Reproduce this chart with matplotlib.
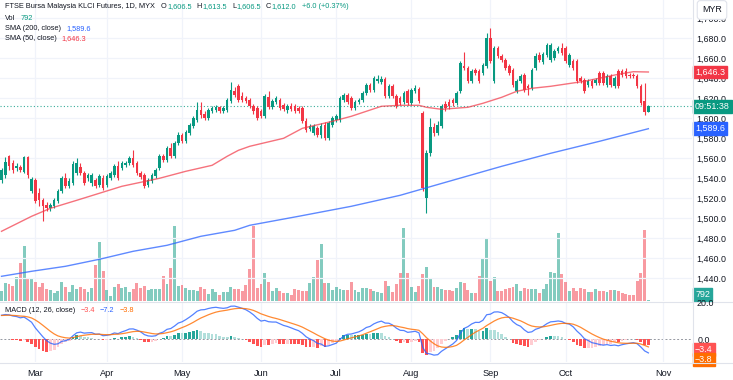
import matplotlib
matplotlib.use("Agg")
import matplotlib.pyplot as plt
from matplotlib.lines import Line2D
import numpy as np

W, H = 733, 380
FONT = ["Liberation Sans", "DejaVu Sans"]
plt.rcParams['font.family'] = FONT

# ---------------- data ----------------
opens = [1538,1543,1562,1555,1550,1551,1546,1561,1527,1538,
         1525,1518,1513,1510,1512,1517,1527,1540,1532,1535,
         1545,1551,1545,1540,1535,1538,1533,1540,1533,1540,
         1543,1552,1550,1553,1555,1560,1555,1545,1543,1533,
         1537,1542,1550,1562,1558,1570,1562,1575,1583,1577,
         1585,1592,1598,1608,1604,1600,1607,1608,1611,1607,
         1608,1617,1627,1632,1622,1620,1618,1612,1610,1607,
         1602,1621,1611,1616,1618,1613,1608,1612,1612,1610,
         1610,1597,1589,1585,1590,1583,1593,1580,1593,1598,
         1598,1618,1623,1620,1610,1616,1618,1625,1633,1628,
         1637,1636,1639,1622,1632,1622,1620,1616,1627,1615,
         1627,1629,1605,1520,1565,1591,1585,1592,1614,1616,
         1618,1615,1627,1652,1650,1637,1648,1647,1645,1652,
         1680,1637,1670,1662,1658,1652,1648,1627,1637,1643,
         1632,1630,1650,1663,1656,1663,1658,1660,1667,1670,
         1670,1653,1657,1657,1640,1638,1633,1637,1635,1645,
         1645,1633,1642,1632,1647,1647,1647,1643,1643,1642,
         1632,1617,1606.5]
highs = [1550,1561,1563,1558,1555,1553,1562,1562,1541,1540,
         1530,1520,1516,1515,1520,1529,1542,1545,1540,1557,
         1560,1555,1547,1545,1545,1540,1544,1543,1544,1547,
         1554,1557,1557,1557,1562,1568,1557,1547,1545,1540,
         1545,1550,1564,1564,1572,1575,1577,1586,1585,1588,
         1595,1602,1616,1616,1607,1610,1612,1613,1612,1612,
         1620,1636,1631,1634,1626,1622,1620,1614,1612,1609,
         1624,1627,1619,1622,1620,1615,1614,1615,1614,1612,
         1612,1600,1594,1594,1592,1595,1596,1597,1602,1604,
         1622,1625,1625,1622,1618,1620,1627,1635,1635,1642,
         1643,1642,1641,1634,1634,1624,1622,1627,1629,1630,
         1633,1631,1607,1568,1600,1595,1597,1614,1617,1619,
         1620,1627,1657,1666,1652,1649,1650,1649,1655,1685,
         1690,1672,1672,1664,1660,1654,1650,1639,1644,1645,
         1634,1650,1665,1666,1666,1675,1675,1669,1672,1675,
         1672,1665,1659,1659,1642,1640,1639,1639,1640,1647,
         1647,1644,1644,1642,1649,1649,1650,1645,1645,1644,
         1634,1635,1613.5]
lows = [1535,1540,1548,1545,1547,1546,1545,1540,1525,1515,
        1512,1497,1507,1507,1510,1515,1525,1530,1530,1533,
        1543,1543,1533,1537,1532,1530,1531,1528,1531,1538,
        1541,1538,1548,1551,1553,1551,1543,1539,1530,1531,
        1535,1540,1548,1556,1556,1560,1560,1573,1575,1575,
        1583,1590,1596,1600,1598,1598,1605,1606,1605,1605,
        1606,1615,1621,1616,1616,1615,1610,1604,1598,1600,
        1600,1609,1609,1614,1608,1607,1605,1607,1605,1605,
        1595,1586,1587,1583,1581,1580,1578,1578,1591,1596,
        1596,1616,1614,1608,1608,1614,1616,1623,1626,1626,
        1635,1634,1620,1620,1620,1610,1613,1614,1613,1613,
        1625,1615,1527,1505,1562,1582,1583,1590,1607,1609,
        1612,1613,1625,1648,1635,1635,1643,1635,1643,1650,
        1655,1635,1660,1656,1648,1643,1631,1625,1635,1626,
        1623,1628,1648,1656,1654,1661,1656,1658,1665,1663,
        1655,1651,1648,1635,1635,1625,1631,1630,1633,1633,
        1633,1631,1631,1630,1630,1641,1640,1640,1640,1630,
        1613,1603,1606.5]
closes = [1548,1556,1552,1548,1552,1548,1561,1543,1539,1517,
          1518,1512,1510,1513,1518,1527,1540,1532,1537,1554,
          1555,1545,1535,1543,1543,1532,1542,1530,1542,1545,
          1552,1540,1555,1555,1560,1553,1545,1541,1532,1538,
          1543,1548,1562,1558,1570,1562,1575,1583,1577,1586,
          1593,1600,1608,1603,1600,1608,1610,1611,1607,1610,
          1618,1628,1623,1618,1618,1617,1612,1607,1600,1602,
          1622,1611,1617,1620,1610,1609,1612,1609,1607,1607,
          1597,1588,1592,1592,1583,1592,1580,1595,1600,1602,
          1620,1623,1616,1610,1616,1618,1625,1633,1628,1640,
          1639,1639,1622,1632,1622,1612,1615,1625,1615,1628,
          1630,1617,1530,1565,1591,1585,1593,1612,1610,1612,
          1615,1625,1655,1650,1637,1647,1645,1637,1653,1680,
          1657,1670,1662,1658,1650,1645,1633,1637,1642,1628,
          1630,1648,1662,1658,1664,1673,1673,1667,1670,1665,
          1657,1663,1650,1637,1637,1627,1637,1632,1638,1635,
          1635,1642,1633,1640,1632,1643,1642,1642,1642,1632,
          1615,1606,1612.0]
volumes = [5460,9380,9010,7950,12880,19980,29150,11820,12030,10230,
           7260,9380,6360,5830,4400,5300,9910,7260,4930,8480,
           6360,7260,6200,4930,6730,19080,31110,15900,5830,2650,
           7260,9010,6730,7580,4930,6200,9700,7050,7950,5830,
           6360,6360,6360,13410,9010,17330,39910,8110,8320,6730,
           5830,5830,5460,7260,6520,3710,6200,4930,3020,4930,
           4930,7260,6360,6200,5300,8320,16800,39910,7050,9010,
           14680,9910,5460,7050,5300,4400,4400,3180,6360,5830,
           5300,5300,9700,12880,21730,30050,9380,9380,5830,7260,
           6200,5830,5830,9910,5830,4770,7050,6890,6360,5460,
           4770,4080,10440,7950,4930,9010,14680,38850,14680,7260,
           4930,8110,14150,18180,11500,7580,7580,6360,5830,5830,
           5300,6890,10230,9700,5670,4080,4400,13250,22630,33550,
           10600,12560,5460,5460,6200,7050,7580,8850,5460,6890,
           6520,6200,6520,4400,6200,8850,15210,14680,36200,14150,
           10230,5460,6730,5460,6730,6200,4770,4930,6360,5300,
           5300,4930,5830,5990,5300,4400,3710,3020,3340,10760,
           15000,38000,792]

# moving averages (bar index, value)
sma50_idx = [0, 8, 13, 20, 26, 32, 37, 42, 49, 56, 60, 63, 66, 75, 80, 88, 93, 97,
             101, 106, 111, 113, 117, 124, 128, 133, 137, 141, 146, 155, 164, 168, 172]
sma50_val = [1487, 1502, 1510, 1518, 1525, 1532, 1536, 1540, 1547, 1553, 1562, 1568,
             1572, 1580, 1590, 1597, 1602, 1607, 1612, 1613, 1613, 1611, 1609, 1611,
             1615, 1621, 1627, 1630, 1632, 1637, 1644, 1646.6, 1646.3]
sma200_idx = [0, 8, 17, 26, 35, 44, 53, 62, 66, 79, 93, 106, 119, 133, 146, 159, 172]
sma200_val = [1442, 1447, 1452, 1459, 1467, 1473, 1482, 1488, 1493, 1502, 1512, 1523,
              1537, 1552, 1565, 1577, 1589.6]

# MACD state before the first visible bar
SIGNAL_START = 12.5
EMA12_GAP0 = 10.1     # close - EMA12 before first bar
EMA26_GAP0 = 22.9     # close - EMA26 before first bar
macd_legend = ["\u22123.4", "\u22127.2", "\u22123.8"]

month_labels = ["Mar", "Apr", "May", "Jun", "Jul", "Aug", "Sep", "Oct", "Nov"]
month_idx = [9, 28, 48, 69, 89, 109, 130, 150, 176]
price_ticks = [1440, 1460, 1480, 1500, 1520, 1540, 1560, 1580, 1600, 1620,
               1640, 1660, 1680, 1700]

# ---------------- styling ----------------
UP = "#089981"
DN = "#f23645"
TXT = "#131722"
GRID = "#f0f3fa"
HFS = 5.3  # header font size

o = np.array(opens, float); c = np.array(closes, float)
hi = np.maximum(np.array(highs, float), np.maximum(o, c))
lo = np.minimum(np.array(lows, float), np.minimum(o, c))
n = len(c)
x = np.arange(n)
XLIM = (-0.4, 183.6)

fig = plt.figure(figsize=(W / 100, H / 100), dpi=100)
fig.patch.set_facecolor("white")


def rect(x0, y0, x1, y1):
    return [x0 / W, 1 - y1 / H, (x1 - x0) / W, (y1 - y0) / H]


PR = 692
# volume (background) axis
axv = fig.add_axes(rect(0, 0, PR, 301))
axv.set_xlim(*XLIM)
axv.set_ylim(0, 160000)
for s in axv.spines.values():
    s.set_visible(False)
axv.set_xticks(month_idx)
axv.tick_params(length=0, labelbottom=False, labelleft=False)
axv.set_yticks([])
axv.grid(axis="x", color=GRID, lw=0.9)
up = c >= o
vcol = [(8/255, 153/255, 129/255, 0.5) if u else (242/255, 54/255, 69/255, 0.5) for u in up]
axv.bar(x, volumes, width=0.78, color=vcol, linewidth=0, zorder=2)

# price axis
ax = fig.add_axes(rect(0, 0, PR, 301))
ax.patch.set_visible(False)
ax.set_xlim(*XLIM)
ax.set_ylim(1718.3 - 301, 1718.3)
for s in ax.spines.values():
    s.set_visible(False)
ax.yaxis.tick_right()
ax.set_yticks(price_ticks)
ax.set_yticklabels([f"{v:,.1f}" for v in price_ticks])
ax.set_xticks([])
ax.tick_params(axis="y", length=0, pad=3, labelsize=6.4, labelcolor=TXT)
for p in price_ticks:
    ax.axhline(p, color=GRID, lw=0.9, zorder=0)

ccol = np.where(up, UP, DN)
ax.vlines(x, lo, hi, colors=ccol, lw=0.8, zorder=3)
ax.bar(x, np.maximum(np.abs(c - o), 0.7), bottom=np.minimum(o, c), width=0.68,
       color=ccol, linewidth=0, zorder=4)
ax.plot(sma200_idx, sma200_val, color="#2962ff", lw=1.0, alpha=0.75, zorder=5)
ax.plot(sma50_idx, sma50_val, color="#f23645", lw=1.0, alpha=0.7, zorder=5)
ax.axhline(c[-1], color=UP, lw=0.8, ls=(0, (1, 2)), alpha=0.8, zorder=2)

# MACD computed from closes
a12, a26, a9 = 2 / 13, 2 / 27, 2 / 10
e12 = c[0] - EMA12_GAP0
e26 = c[0] - EMA26_GAP0
sig = SIGNAL_START
macd, signal = [], []
for v in c:
    e12 = a12 * v + (1 - a12) * e12
    e26 = a26 * v + (1 - a26) * e26
    m = e12 - e26
    sig = a9 * m + (1 - a9) * sig
    macd.append(m)
    signal.append(sig)
macd = np.array(macd); signal = np.array(signal)
hist = macd - signal
hcol = []
for i, h in enumerate(hist):
    prev = hist[i - 1] if i > 0 else h
    if h >= 0:
        hcol.append("#26a69a" if h > prev else "#b2dfdb")
    else:
        hcol.append("#ffcdd2" if h > prev else "#ff5252")

axm = fig.add_axes(rect(0, 303, PR, 362))
axm.set_xlim(*XLIM)
axm.set_ylim(-(362 - 339.3) / 1.9, (339.3 - 303) / 1.9)
for s in axm.spines.values():
    s.set_visible(False)
axm.set_xticks(month_idx)
axm.set_xticklabels(month_labels)
axm.tick_params(axis="x", length=0, pad=5, labelsize=6.6, labelcolor=TXT)
axm.yaxis.tick_right()
axm.set_yticks([0])
axm.set_yticklabels(["0.0"])
axm.tick_params(axis="y", length=0, pad=4, labelsize=6.4, labelcolor=TXT)
axm.grid(axis="x", color=GRID, lw=0.9)
axm.bar(x, hist, width=0.72, color=hcol, linewidth=0, zorder=2)
axm.plot(x, macd, color="#2962ff", lw=0.9, alpha=0.8, zorder=3)
axm.plot(x, signal, color="#ff6d00", lw=0.9, alpha=0.8, zorder=3)
axm.axhline(0, color="#9598a1", lw=0.7, ls=(0, (2, 2)), zorder=1)
fig.text((PR + 5) / W, 1 - 303.5 / H, "20.0", fontsize=6.4, color=TXT, va="center", ha="left")

# separators
fig.add_artist(Line2D([0, 1], [1 - 302 / H] * 2, color="#e0e3eb", lw=0.8))
fig.add_artist(Line2D([0, 1], [1 - 362.5 / H] * 2, color="#e0e3eb", lw=0.8))
fig.add_artist(Line2D([(PR + 0.5) / W] * 2, [1 - 362.5 / H, 1], color="#e0e3eb", lw=0.8))


# right-hand value labels
def side_label(axis, val, text, fc, dy_px=0, fs=6.4):
    axis.annotate(text, xy=(1, val), xycoords=axis.get_yaxis_transform(),
                  xytext=(2.2, -dy_px * 0.72), textcoords="offset points",
                  ha="left", va="center", fontsize=fs, color="white",
                  bbox=dict(boxstyle="square,pad=0.22", fc=fc, ec=fc),
                  annotation_clip=False, zorder=20)


side_label(ax, sma50_val[-1], f"{sma50_val[-1]:,.1f}", "#f23645")
side_label(ax, c[-1], "09:51:38", UP)
side_label(ax, sma200_val[-1], f"{sma200_val[-1]:,.1f}", "#2962ff")
side_label(axv, volumes[-1], f"{volumes[-1]}", "#26a69a", dy_px=-5)
side_label(axm, -3.4, macd_legend[0], "#ff5252", dy_px=3.5)
side_label(axm, -3.8, macd_legend[2], "#ff6d00", dy_px=13)

# MYR box
fig.text(712 / W, 1 - 10 / H, "MYR", fontsize=6.4, color=TXT, ha="center", va="center",
         bbox=dict(boxstyle="round,pad=0.55,rounding_size=0.35", fc="white", ec="#e0e3eb", lw=0.8),
         zorder=30)

# header legends
renderer = fig.canvas.get_renderer()


def seg_line(x_px, y_px, parts, fs=HFS):
    xx = x_px
    for txt, col, gap in parts:
        xx += gap
        t = fig.text(xx / W, 1 - y_px / H, txt, color=col, fontsize=fs, va="center", ha="left")
        xx += t.get_window_extent(renderer).width


seg_line(5, 7, [("FTSE Bursa Malaysia KLCI Futures, 1D, MYX", TXT, 0),
                ("O", TXT, 6), (f"{opens[-1]:,.1f}", UP, 0.5),
                ("H", TXT, 5), (f"{highs[-1]:,.1f}", UP, 0.5),
                ("L", TXT, 5), (f"{lows[-1]:,.1f}", UP, 0.5),
                ("C", TXT, 5), (f"{closes[-1]:,.1f}", UP, 0.5),
                ("+6.0 (+0.37%)", UP, 5)])
seg_line(5, 18, [("Vol", TXT, 0), (f"{volumes[-1]}", UP, 5)])
seg_line(5, 28.5, [("SMA (200, close)", TXT, 0), (f"{sma200_val[-1]:,.1f}", "#2962ff", 5)])
seg_line(5, 39, [("SMA (50, close)", TXT, 0), (f"{sma50_val[-1]:,.1f}", "#f23645", 5)])
seg_line(5, 311, [("MACD (12, 26, close)", TXT, 0), (macd_legend[0], "#ff5252", 5),
                  (macd_legend[1], "#2962ff", 5), (macd_legend[2], "#ff6d00", 5)])

fig.savefig("out.png", dpi=100, facecolor="white")
